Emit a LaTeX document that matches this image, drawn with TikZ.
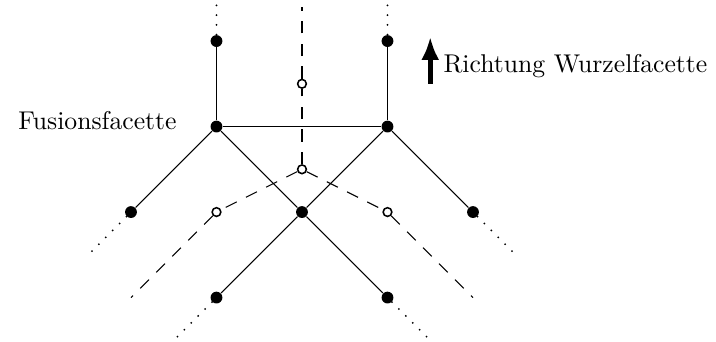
\documentclass[tikz,border=0pt]{standalone}
\usetikzlibrary{arrows.meta}
\tikzset{every picture/.style={line width=0.4pt}}
\tikzset{
  voll/.style={circle,fill,inner sep=0pt,minimum size=4.6pt},
  leer/.style={circle,draw,line width=0.6pt,fill=white,inner sep=0pt,minimum size=3.4pt},
  gestr/.style={dash pattern=on 4.8pt off 4pt},
  punkt/.style={line width=0.8pt,line cap=round,dash pattern=on 0pt off 3.8pt},
  pfeil/.style={line width=2pt,-{Latex[length=9pt,width=7pt]}}
}
\begin{document}
\begin{tikzpicture}[x=1.17cm,y=1.17cm]
    \useasboundingbox (-3.532,-1.509) rectangle (4.842,2.480);

    % Knoten
    \node[voll] (o1) at (-1,2) {};
    \node[voll] (o2) at (1,2) {};
    \node[voll] (f1) at (-1,1) {};
    \node[voll] (f2) at (1,1) {};
    \node[voll] (l) at (-2,0) {};
    \node[voll] (x) at (0,0) {};
    \node[voll] (r) at (2,0) {};
    \node[voll] (u1) at (-1,-1) {};
    \node[voll] (u2) at (1,-1) {};

    % Dualknoten
    \node[leer] (d1) at (0,1.5) {};
    \node[leer] (d0) at (0,0.5) {};
    \node[leer] (dl) at (-1,0) {};
    \node[leer] (dr) at (1,0) {};

    % freie Enden
    \coordinate (o1e) at (-1,2.42);
    \coordinate (o2e) at (1,2.42);
    \coordinate (de) at (0,2.4);
    \coordinate (le) at (-2.5,-0.5);
    \coordinate (re) at (2.5,-0.5);
    \coordinate (u1e) at (-1.5,-1.5);
    \coordinate (u2e) at (1.5,-1.5);
    \coordinate (dle) at (-2,-1);
    \coordinate (dre) at (2,-1);

    % Kanten
    \draw (o1) -- (f1) -- (f2) -- (o2);
    \draw (l) -- (f1) -- (x) -- (u2);
    \draw (r) -- (f2) -- (x) -- (u1);

    % gestrichelt
    \draw[gestr] (d0) -- (d1) -- (de);
    \draw[gestr] (d0) -- (dl) -- (dle);
    \draw[gestr] (d0) -- (dr) -- (dre);

    % gepunktet
    \draw[punkt] (o1) -- (o1e);
    \draw[punkt] (o2) -- (o2e);
    \draw[punkt] (l) -- (le);
    \draw[punkt] (r) -- (re);
    \draw[punkt] (u1) -- (u1e);
    \draw[punkt] (u2) -- (u2e);

    % Beschriftung
    \node[anchor=east] (fus) at (-1.36,1.07) {Fusionsfacette};
    \coordinate (pu) at (1.5,1.5);
    \coordinate (po) at (1.5,2.05);
    \draw[pfeil] (pu) -- (po);
    \node[anchor=west] (ri) at (1.55,1.71) {Richtung Wurzelfacette};
\end{tikzpicture}
\end{document}
